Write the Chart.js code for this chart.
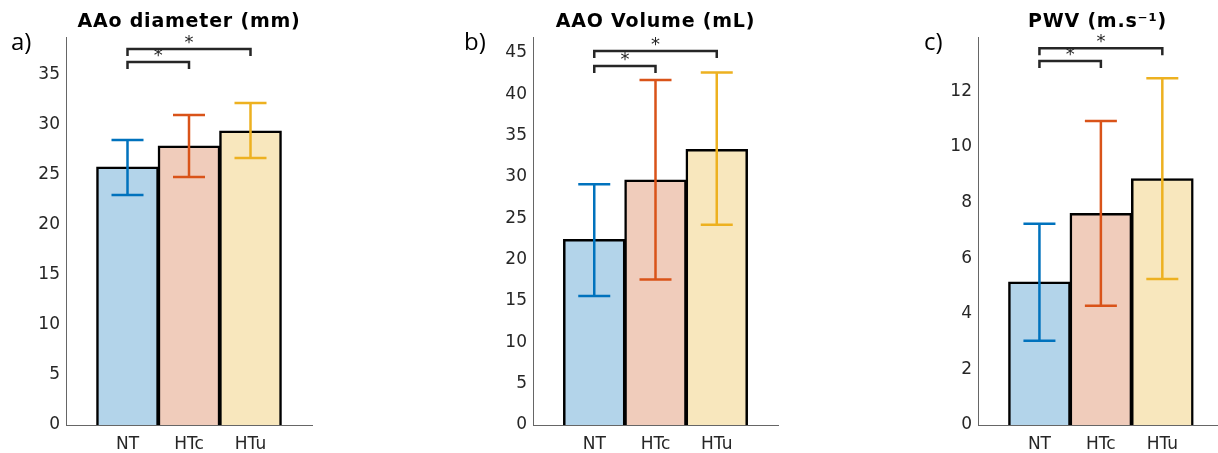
<!DOCTYPE html>
<html>
<head>
<meta charset="utf-8">
<script src="https://cdn.jsdelivr.net/npm/chart.js@4.4.0/dist/chart.umd.min.js"></script>
<style>
  body { margin: 0; background: #fff; }
  #wrap { position: relative; width: 1218px; height: 453px; overflow: hidden; }
  canvas { position: absolute; top: 0; }
  .letra { position: absolute; top: 29px; font-family: "Open Sans", sans-serif; font-size: 24px; color: #000; line-height: 1; }
</style>
</head>
<body>
<div id="wrap">
  <canvas id="chartA" width="406" height="453" style="left:0px"></canvas>
  <canvas id="chartB" width="406" height="453" style="left:406px"></canvas>
  <canvas id="chartC" width="406" height="453" style="left:812px"></canvas>
  <div class="letra" style="left:11px">a)</div>
  <div class="letra" style="left:464px">b)</div>
  <div class="letra" style="left:924px">c)</div>
</div>
<script>
// grupos
const grupos = ["NT", "HTc", "HTu"];
const posX = [1, 2, 3];

// a) diametro AAo (mm)
const diamMedia = [25.8, 27.9, 29.4];
const diamBajo = [23.0, 24.8, 26.7];
const diamAlto = [28.5, 31.0, 32.2];
const diamTicks = [0, 5, 10, 15, 20, 25, 30, 35];
const diamSig = [36.3, 37.6];

// b) volumen AAO (mL)
const volMedia = [22.4, 29.6, 33.3];
const volBajo = [15.6, 17.6, 24.2];
const volAlto = [29.1, 41.7, 42.6];
const volTicks = [0, 5, 10, 15, 20, 25, 30, 35, 40, 45];
const volSig = [43.4, 45.2];

// c) PWV (m/s)
const pwvMedia = [5.14, 7.6, 8.85];
const pwvBajo = [3.03, 4.29, 5.25];
const pwvAlto = [7.24, 10.93, 12.47];
const pwvTicks = [0, 2, 4, 6, 8, 10, 12];
const pwvSig = [13.09, 13.55];

// comparaciones con asterisco (NT-HTc, NT-HTu)
const pares = [[1, 2], [1, 3]];

const relleno = ["#b3d4ea", "#f0ccbb", "#f8e7bd"];
const colorError = ["#0072bd", "#d95319", "#edb120"];
const gris = "#262626";

// barras de error, corchetes de significancia y titulo
const extras = {
    id: "extras",
    afterDatasetsDraw(chart, args, opts) {
        const ctx = chart.ctx;
        const xs = chart.scales.x;
        const ys = chart.scales.y;
        ctx.save();
        ctx.lineWidth = 2.5;
        for (let i = 0; i < posX.length; i++) {
            const x = xs.getPixelForValue(posX[i]);
            const y1 = ys.getPixelForValue(opts.bajo[i]);
            const y2 = ys.getPixelForValue(opts.alto[i]);
            ctx.strokeStyle = colorError[i];
            ctx.beginPath();
            ctx.moveTo(x, y1); ctx.lineTo(x, y2);
            ctx.moveTo(x - 16, y1); ctx.lineTo(x + 16, y1);
            ctx.moveTo(x - 16, y2); ctx.lineTo(x + 16, y2);
            ctx.stroke();
        }
        ctx.strokeStyle = gris;
        ctx.fillStyle = gris;
        ctx.lineWidth = 2.5;
        ctx.font = "18px 'DejaVu Sans'";
        ctx.textAlign = "center";
        ctx.textBaseline = "middle";
        pares.forEach(function(p, k) {
            const xa = xs.getPixelForValue(p[0]);
            const xb = xs.getPixelForValue(p[1]);
            const y = ys.getPixelForValue(opts.sig[k]);
            ctx.beginPath();
            ctx.moveTo(xa, y + 7); ctx.lineTo(xa, y);
            ctx.lineTo(xb, y); ctx.lineTo(xb, y + 7);
            ctx.stroke();
            ctx.fillText("*", (xa + xb) / 2, y - 6);
        });

        // titulo centrado sobre el area del grafico
        const area = chart.chartArea;
        ctx.fillStyle = "#000";
        ctx.font = "bold 19px 'DejaVu Sans'";
        ctx.letterSpacing = "0.8px";
        ctx.fillText(opts.titulo, (area.left + area.right) / 2, 22);
        ctx.restore();
    }
};

function hacerGrafica(id, titulo, media, bajo, alto, ticksY, maxY, maxX, sig, padIzq, padDer) {
    const datos = posX.map((x, i) => ({ x: x, y: media[i] }));
    return new Chart(document.getElementById(id).getContext("2d"), {
        type: "bar",
        data: {
            datasets: [{
                data: datos,
                backgroundColor: relleno,
                borderColor: "#000",
                borderWidth: 2.5,
                inflateAmount: 0.6,
                barPercentage: 1,
                categoryPercentage: 1
            }]
        },
        plugins: [extras],
        options: {
            responsive: false,
            animation: false,
            layout: { padding: { left: padIzq, right: padDer, top: 37, bottom: 0 } },
            scales: {
                x: {
                    type: "linear",
                    min: 0,
                    max: maxX,
                    offset: false,
                    grid: { display: false, drawTicks: false },
                    border: { display: true, color: "#666", width: 1 },
                    afterBuildTicks: s => { s.ticks = posX.map(v => ({ value: v })); },
                    afterFit: s => { s.height = 28; },
                    ticks: {
                        padding: 9,
                        color: gris,
                        font: { family: "DejaVu Sans", size: 17 },
                        callback: (v, i) => grupos[i]
                    }
                },
                y: {
                    min: 0,
                    max: maxY,
                    grid: { display: false, drawTicks: false },
                    border: { display: true, color: "#666", width: 1 },
                    afterBuildTicks: s => { s.ticks = ticksY.map(v => ({ value: v })); },
                    afterFit: s => { s.width = 60; },
                    ticks: {
                        padding: 6,
                        color: gris,
                        font: { family: "DejaVu Sans", size: 17 }
                    }
                }
            },
            plugins: {
                legend: { display: false },
                tooltip: { enabled: false },
                title: { display: false },
                extras: { bajo: bajo, alto: alto, sig: sig, titulo: titulo }
            }
        }
    });
}

hacerGrafica("chartA", "AAo diameter (mm)", diamMedia, diamBajo, diamAlto, diamTicks, 38.8, 4, diamSig, 6, 94);
hacerGrafica("chartB", "AAO Volume (mL)", volMedia, volBajo, volAlto, volTicks, 46.9, 4, volSig, 67, 34);
hacerGrafica("chartC", "PWV (m.s\u207B\u00B9)", pwvMedia, pwvBajo, pwvAlto, pwvTicks, 13.95, 3.89, pwvSig, 106, 1);
</script>
</body>
</html>
